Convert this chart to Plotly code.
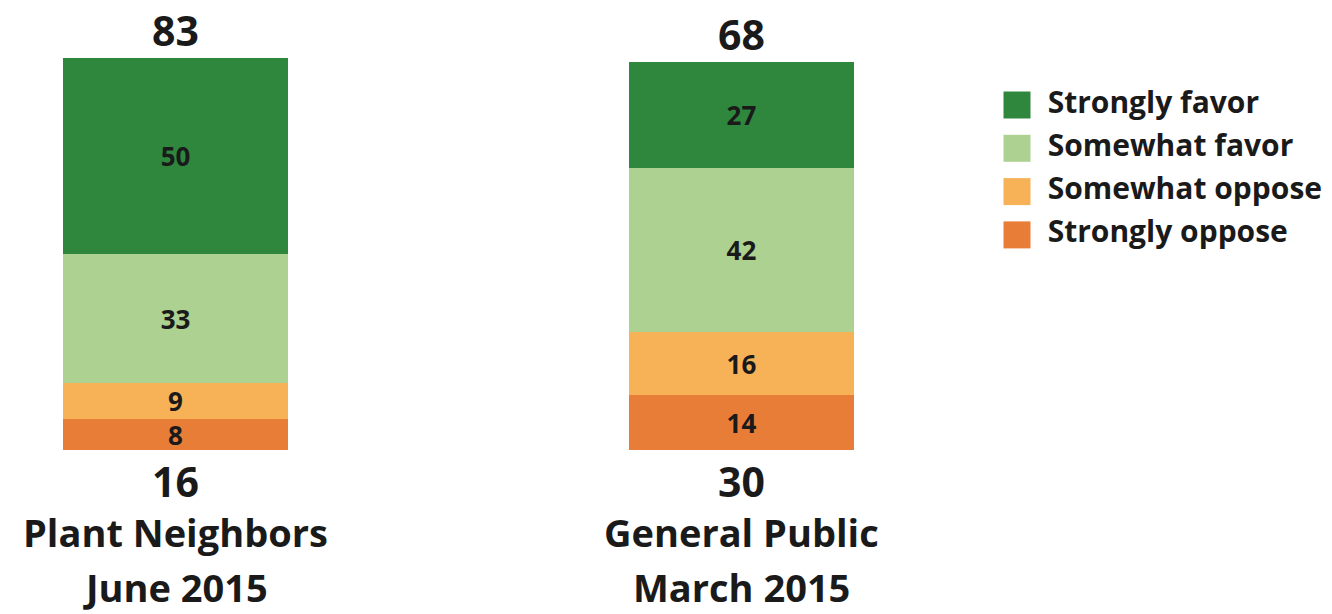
import plotly.graph_objects as go

group_names = ["Plant Neighbors", "General Public"]
group_dates = ["June 2015", "March 2015"]
series = ["Strongly oppose", "Somewhat oppose", "Somewhat favor", "Strongly favor"]
strongly_oppose = [8, 14]
somewhat_oppose = [9, 16]
somewhat_favor = [33, 42]
strongly_favor = [50, 27]
favor_totals = [83, 68]
oppose_totals = [16, 30]

colors = {
    "Strongly favor": "#2E873D",
    "Somewhat favor": "#ACD190",
    "Somewhat oppose": "#F7B257",
    "Strongly oppose": "#E87D38",
}
values = {
    "Strongly oppose": strongly_oppose,
    "Somewhat oppose": somewhat_oppose,
    "Somewhat favor": somewhat_favor,
    "Strongly favor": strongly_favor,
}

FONT = "Open Sans"
TXT = "#1a1a1a"
xpos = list(range(len(group_names)))

fig = go.Figure()
for s in series:
    fig.add_trace(go.Bar(
        x=xpos, y=values[s], name=s, width=0.397,
        marker=dict(color=colors[s], line=dict(width=0)),
        text=values[s], textposition="inside", insidetextanchor="middle",
        textangle=0, constraintext="none",
        textfont=dict(family=FONT, size=26, color=TXT, weight="bold"),
        showlegend=False, hoverinfo="skip",
    ))

# custom legend (top to bottom)
legend_order = ["Strongly favor", "Somewhat favor", "Somewhat oppose", "Strongly oppose"]
fig.add_trace(go.Scatter(
    x=[1017] * len(legend_order),
    y=[105 + 43.3 * i for i in range(len(legend_order))],
    mode="markers+text",
    marker=dict(symbol="square", size=27, color=[colors[s] for s in legend_order], line=dict(width=0)),
    text=[" \u2009" + s for s in legend_order], textposition="middle right",
    textfont=dict(family=FONT, size=30, color=TXT, weight="bold"),
    xaxis="x2", yaxis="y2", showlegend=False, hoverinfo="skip", cliponaxis=False,
))

stack_tops = [sum(values[s][i] for s in series) for i in xpos]
big = dict(family=FONT, size=41, color=TXT, weight="bold")
lab = dict(family=FONT, size=38, color=TXT, weight="bold")
annotations = []
for i in xpos:
    annotations.append(dict(x=i, y=stack_tops[i], text=str(favor_totals[i]), showarrow=False,
                            yanchor="middle", yshift=28, font=big))
    annotations.append(dict(x=i, y=0, text=str(oppose_totals[i]), showarrow=False,
                            yanchor="middle", yshift=-31, font=big))
    annotations.append(dict(x=i, y=0, text=group_names[i], showarrow=False,
                            yanchor="middle", yshift=-82, font=lab))
    annotations.append(dict(x=i, y=0, text=group_dates[i], showarrow=False,
                            yanchor="middle", yshift=-137, font=lab))

fig.update_layout(
    width=1332, height=614,
    margin=dict(l=0, r=0, t=0, b=0),
    paper_bgcolor="white", plot_bgcolor="white",
    barmode="stack", bargap=0,
    xaxis=dict(range=[-0.31, 2.043], visible=False, fixedrange=True),
    yaxis=dict(range=[-41.8, 114.8], visible=False, fixedrange=True),
    xaxis2=dict(range=[0, 1332], domain=[0, 1], visible=False, overlaying="x"),
    yaxis2=dict(range=[614, 0], domain=[0, 1], visible=False, overlaying="y"),
    annotations=annotations,
)
fig.write_html("out.html")
